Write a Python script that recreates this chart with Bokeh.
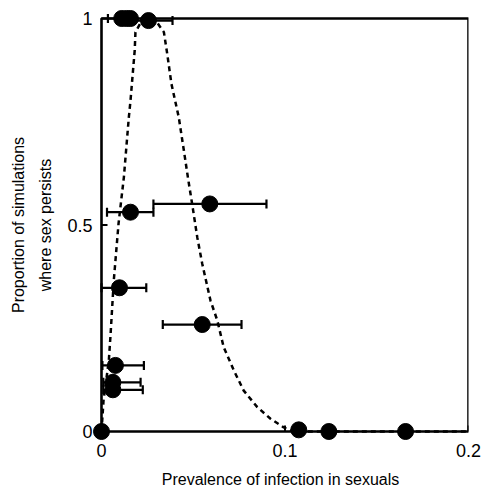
import numpy as np
from bokeh.plotting import figure
from bokeh.models import FixedTicker, LinearAxis, Range1d
from bokeh.embed import file_html
from bokeh.resources import INLINE

# ---- data ----
pt_x = [0.0, 0.0110, 0.0136, 0.0158, 0.0256, 0.0158, 0.0590, 0.0098, 0.0549,
        0.0076, 0.0062, 0.0062, 0.1075, 0.1239, 0.1657]
pt_y = [0.0, 1.0, 1.0, 1.0, 0.995, 0.531, 0.551, 0.348, 0.259,
        0.160, 0.119, 0.101, 0.004, 0.0, 0.0]

err_y = [1.0, 0.995, 0.531, 0.551, 0.348, 0.259, 0.160, 0.119, 0.101]
err_lo = [0.0035, 0.0140, 0.0030, 0.0283, 0.0000, 0.0334, 0.0005, 0.0010, 0.0010]
err_hi = [0.0180, 0.0387, 0.0283, 0.0899, 0.0244, 0.0763, 0.0231, 0.0213, 0.0225]

curve_x = [0.0, 0.0011, 0.0040, 0.0049, 0.0067, 0.0093, 0.0122, 0.0149, 0.0158,
           0.0181, 0.0185, 0.0220, 0.0256, 0.0300, 0.0340, 0.0358, 0.0381, 0.0421,
           0.0449, 0.0472, 0.0494, 0.0522, 0.0549, 0.0594, 0.0631, 0.0666, 0.0721,
           0.0775, 0.0849, 0.0921, 0.0993, 0.1030, 0.1100, 0.2000]
curve_y = [0.0, 0.075, 0.172, 0.232, 0.366, 0.504, 0.616, 0.761, 0.801,
           0.923, 0.967, 0.995, 1.0, 0.992, 0.967, 0.915, 0.842, 0.761,
           0.680, 0.612, 0.551, 0.470, 0.406, 0.317, 0.269, 0.204, 0.148,
           0.099, 0.059, 0.031, 0.010, 0.002, 0.0, 0.0]

x_ticks = [0, 0.1, 0.2]
x_labels = ["0", "0.1", "0.2"]
y_ticks = [0, 0.5, 1]
y_labels = ["0", "0.5", "1"]

FONT = "Liberation Sans"

# ---- layout (pixels) ----
BOX_W, BOX_H = 367, 413           # size of the axes box
PAD_L, PAD_B, PAD_T, PAD_R = 9, 10, 10, 0   # room so markers are not clipped
x0, x1 = x_ticks[0], x_ticks[-1]
y0, y1 = y_ticks[0], y_ticks[-1]
dx = (x1 - x0) / BOX_W            # data units per pixel
dy = (y1 - y0) / BOX_H

p = figure(width=485, height=492, output_backend="svg", toolbar_location=None,
           frame_width=BOX_W + PAD_L + PAD_R, frame_height=BOX_H + PAD_B + PAD_T,
           x_range=Range1d(x0 - PAD_L * dx, x1 + PAD_R * dx),
           y_range=Range1d(y0 - PAD_B * dy, y1 + PAD_T * dy),
           min_border_left=92, min_border_right=17, min_border_top=8,
           min_border_bottom=51, x_axis_location=None, y_axis_location=None)
p.xgrid.visible = False
p.ygrid.visible = False
p.outline_line_color = None
p.background_fill_color = "white"
p.border_fill_color = "white"

xa = LinearAxis(ticker=FixedTicker(ticks=x_ticks),
                major_label_overrides={t: l for t, l in zip(x_ticks, x_labels)},
                axis_label="Prevalence of infection in sexuals")
ya = LinearAxis(ticker=FixedTicker(ticks=y_ticks),
                major_label_overrides={t: l for t, l in zip(y_ticks, y_labels)},
                axis_label="Proportion of simulations\nwhere sex persists")
for ax in (xa, ya):
    ax.axis_line_color = None
    ax.major_tick_line_color = None
    ax.major_tick_in = 0
    ax.major_tick_out = 0
    ax.minor_tick_line_color = None
    ax.major_label_text_font = FONT
    ax.major_label_text_font_size = "18px"
    ax.major_label_text_color = "black"
    ax.axis_label_text_font = FONT
    ax.axis_label_text_font_size = "16px"
    ax.axis_label_text_font_style = "normal"
    ax.axis_label_text_color = "black"
xa.major_label_standoff = 2
xa.axis_label_standoff = 11
ya.major_label_standoff = 0
ya.axis_label_standoff = 10
ya.axis_label_text_line_height = 1.6
p.add_layout(xa, "below")
p.add_layout(ya, "left")

# axes box
p.quad(left=[x0], right=[x1], bottom=[y0], top=[y1], fill_color=None,
       line_color="black", line_width=2.6)
# inward tick marks
p.segment(x0=x_ticks, y0=[y0] * len(x_ticks), x1=x_ticks, y1=[y0 + 6 * dy] * len(x_ticks),
          line_color="black", line_width=2)
p.segment(x0=[x0] * len(y_ticks), y0=y_ticks, x1=[x0 + 6 * dx] * len(y_ticks), y1=y_ticks,
          line_color="black", line_width=2)

# dashed curve
p.line(curve_x, curve_y, line_color="black", line_width=2.5, line_dash="5 4")

# error bars
p.segment(x0=err_lo, y0=err_y, x1=err_hi, y1=err_y, line_color="black", line_width=2.2)
p.scatter(err_lo, err_y, marker="dash", angle=np.pi / 2, size=9,
          line_color="black", line_width=2.2)
p.scatter(err_hi, err_y, marker="dash", angle=np.pi / 2, size=9,
          line_color="black", line_width=2.2)

# points
p.scatter(pt_x, pt_y, marker="circle", size=16, fill_color="black", line_color="black")

open("out.html", "w").write(file_html(p, INLINE))
